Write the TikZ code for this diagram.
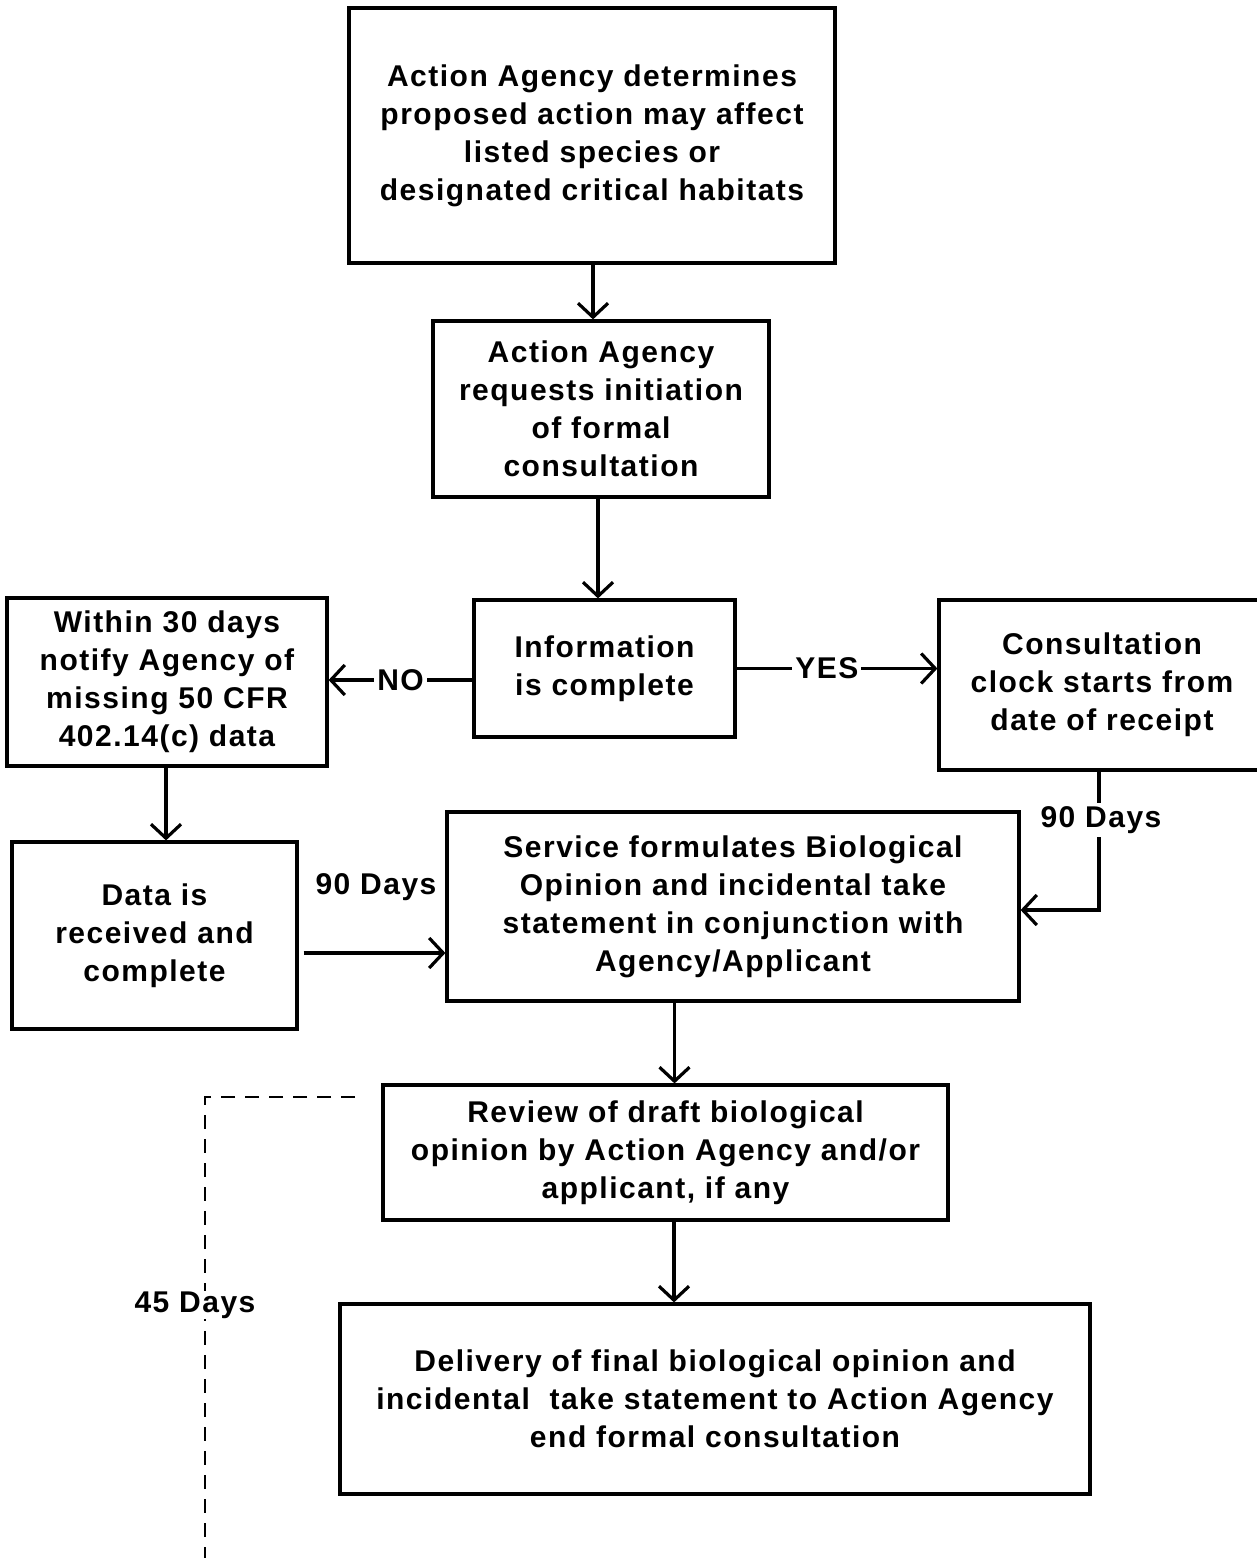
\documentclass[tikz,border=0pt]{standalone}
\usepackage{fontspec}
\setmainfont{Liberation Sans}[LetterSpace=5]
\usetikzlibrary{arrows.meta,calc}
\begin{document}
\begin{tikzpicture}[x=0.5pt,y=-0.5pt,
  box/.style={draw,line width=1.6pt,inner sep=0pt,align=center,
    font=\fontsize{15}{19}\selectfont\bfseries},
  lbl/.style={fill=white,inner sep=1.5pt,font=\fontsize{15}{19}\selectfont\bfseries},
  arr/.style={line width=1.6pt,-{Straight Barb[length=7pt,width=15pt,line width=1.6pt]}},
  dsh/.style={line width=0.7pt,dash pattern=on 7pt off 5pt}]
\useasboundingbox (0,0) rectangle (1257,1558);
\node[box,minimum width=243pt,minimum height=127.5pt] (top) at (592,135.5)
  {Action Agency determines\\proposed action may affect\\listed species or\\designated critical habitats};
\node[box,minimum width=168pt,minimum height=88pt] (req) at (601,409)
  {Action Agency\\requests initiation\\of formal\\consultation};
\node[box,minimum width=130.5pt,minimum height=68.5pt] (info) at (604.5,668.5)
  {Information\\is complete};
\node[box,minimum width=160pt,minimum height=84pt] (within) at (167,682)
  {Within 30 days\\notify Agency of\\missing 50 CFR\\402.14(c) data};
\node[box,minimum width=163pt,minimum height=85pt] (cons) at (1102,685)
  {Consultation\\clock starts from\\date of receipt};
\node[box,minimum width=142.5pt,minimum height=93.5pt] (data) at (154.5,935.5)
  {Data is\\received and\\complete};
\node[box,minimum width=286pt,minimum height=94.5pt] (serv) at (733,906.5)
  {Service formulates Biological\\Opinion and incidental take\\statement in conjunction with\\Agency/Applicant};
\node[box,minimum width=282.5pt,minimum height=67.5pt] (rev) at (665.5,1152.5)
  {Review of draft biological\\opinion by Action Agency and/or\\applicant, if any};
\node[box,minimum width=375pt,minimum height=95pt] (del) at (715,1399)
  {Delivery of final biological opinion and\\incidental\ \ take statement to Action Agency\\end formal consultation};
% connectors
\draw[arr] ([xshift=0.5pt]top.south) -- ([xshift=0.5pt]top.south |- req.north);
\draw[arr] ([xshift=-1.5pt]req.south) -- ([xshift=-1.5pt]req.south |- info.north);
\draw[arr] ([yshift=-5.75pt]info.west) -- node[lbl,pos=0.5] (no) {NO} ([yshift=-5.75pt]info.west -| within.east);
\draw[arr] (info.east) -- node[lbl,pos=0.45] (yes) {YES} (info.east -| cons.west);
\draw[arr] ([xshift=-0.5pt]within.south) -- ([xshift=-0.5pt]within.south |- data.north);
\draw[arr] ([xshift=2.5pt,yshift=-8.75pt]data.east) -- ([yshift=-8.75pt]data.east -| serv.west);
\node[font=\fontsize{15}{19}\selectfont\bfseries,inner sep=1pt] (d90a) at (376,887) {90 Days};
\draw[arr] ([xshift=-1.5pt]cons.south) |- ([yshift=-1.75pt]serv.east);
\node[lbl] (d90b) at (1101,820) {90 Days};
\draw[arr] ([xshift=4.5pt]rev.north |- serv.south) -- ([xshift=4.5pt]rev.north);
\draw[arr] ([xshift=4.25pt]rev.south) -- ([xshift=4.25pt]rev.south |- del.north);
% dashed 45 days bracket
\coordinate (da) at (355,1097);
\coordinate (db) at (205,1097);
\coordinate (dc) at (205,1558);
\draw[dsh] (da) -- (db) -- (dc);
\node[lbl,inner sep=0.5pt] (d45) at (195,1305) {45 Days};
\end{tikzpicture}
\end{document}
